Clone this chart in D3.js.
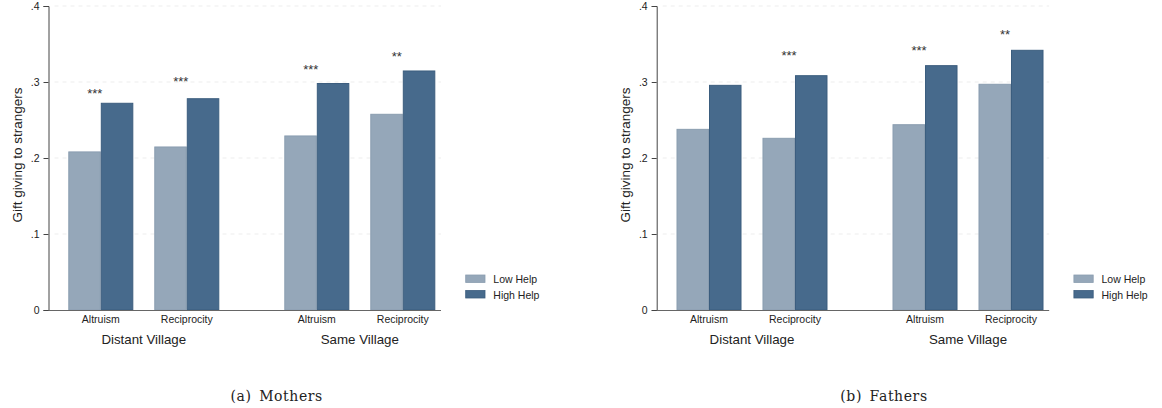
<!DOCTYPE html>
<html><head><meta charset="utf-8">
<script src="https://cdn.jsdelivr.net/npm/d3@7"></script>
<style>
html,body{margin:0;padding:0;background:#fff;}
svg{display:block;}
</style></head>
<body>
<script>
// ---------- data ----------
const villages = ["Distant Village", "Same Village"];
const games = ["Altruism", "Reciprocity"];
const helpLevels = ["Low Help", "High Help"];
const yTickValues = [0, 0.1, 0.2, 0.3, 0.4];
const yTickLabels = ["0", ".1", ".2", ".3", ".4"];
const yTitle = "Gift giving to strangers";
// order: Distant-Altruism, Distant-Reciprocity, Same-Altruism, Same-Reciprocity
const mothersLow  = [0.208, 0.2145, 0.229, 0.2575];
const mothersHigh = [0.272, 0.278, 0.298, 0.3145];
const mothersStars = ["***", "***", "***", "**"];
const mothersStarAt = [0.289, 0.304, 0.321, 0.338];
const fathersLow  = [0.2377, 0.2259, 0.2438, 0.297];
const fathersHigh = [0.2956, 0.3083, 0.3215, 0.3417];
const fathersStars = ["", "***", "***", "**"];
const fathersStarAt = [0, 0.3386, 0.345, 0.366];
const captions = ["(a)\u2002Mothers", "(b)\u2002Fathers"];

// ---------- layout ----------
const W = 1162, H = 408;
const colors = {"Low Help": "#95a7b9", "High Help": "#476a8c"};
const strokes = {"Low Help": "#8a9db0", "High Help": "#3b5d7e"};
const sans = "Liberation Sans, Arial, sans-serif";

const svg = d3.select("body").append("svg").attr("width", W).attr("height", H);

const panels = [
  {off: 0, low: mothersLow, high: mothersHigh, stars: mothersStars, starAt: mothersStarAt, cap: captions[0], capX: 276.7},
  {off: 608.2, low: fathersLow, high: fathersHigh, stars: fathersStars, starAt: fathersStarAt, cap: captions[1], capX: 884}
];

const axisX = 48.5, plotRight = 441, plotTop = 6, plotBottom = 310;
const y = d3.scaleLinear().domain([0, 0.4]).range([plotBottom, plotTop]);
const xV = d3.scaleBand().domain(villages).range([68.3, 435.3]).paddingInner(0.301).paddingOuter(0);
const xG = d3.scaleBand().domain(games).range([0, xV.bandwidth()]).paddingInner(0.244).paddingOuter(0);
const xH = d3.scaleBand().domain(helpLevels).range([0, xG.bandwidth()]).padding(0);

panels.forEach(p => {
  const g = svg.append("g").attr("transform", `translate(${p.off},0)`);

  // gridlines
  g.append("g").selectAll("line").data(yTickValues.filter(v => v > 0)).join("line")
    .attr("x1", axisX + 6).attr("x2", plotRight)
    .attr("y1", d => y(d)).attr("y2", d => y(d))
    .attr("stroke", "#ededed").attr("stroke-width", 1).attr("stroke-dasharray", "4,4");

  // records
  const rows = [];
  villages.forEach((v, vi) => games.forEach((gm, gi) => {
    const i = vi * 2 + gi;
    rows.push({v, gm, i, low: p.low[i], high: p.high[i], star: p.stars[i], starAt: p.starAt[i]});
  }));

  const grp = g.append("g").selectAll("g").data(rows).join("g")
    .attr("transform", d => `translate(${xV(d.v) + xG(d.gm)},0)`);

  grp.selectAll("rect").data(d => helpLevels.map(h => ({h, val: h === "Low Help" ? d.low : d.high}))).join("rect")
    .attr("x", d => xH(d.h) + 0.5).attr("width", xH.bandwidth() - 1)
    .attr("y", d => y(d.val)).attr("height", d => y(0) - y(d.val))
    .attr("fill", d => colors[d.h]).attr("stroke", d => strokes[d.h]).attr("stroke-width", 1);

  grp.filter(d => d.star).append("text")
    .attr("x", xG.bandwidth() / 2 - 6).attr("y", d => y(d.starAt) + 7.5)
    .attr("text-anchor", "middle").attr("font-family", sans).attr("font-size", 13)
    .attr("fill", "#333").text(d => d.star);

  // category labels
  grp.append("text")
    .attr("x", xG.bandwidth() / 2).attr("y", 323)
    .attr("text-anchor", "middle").attr("font-family", sans).attr("font-size", 10.5)
    .attr("fill", "#222").text(d => d.gm);

  // village labels
  g.append("g").selectAll("text").data(villages).join("text")
    .attr("x", d => xV(d) + xV.bandwidth() / 2).attr("y", 344)
    .attr("text-anchor", "middle").attr("font-family", sans).attr("font-size", 13.3)
    .attr("fill", "#222").text(d => d);

  // y axis
  const yAxis = d3.axisLeft(y).tickValues(yTickValues)
    .tickFormat((d, i) => yTickLabels[i]).tickSize(5).tickPadding(4);
  const ya = g.append("g").attr("transform", `translate(${axisX},0)`).call(yAxis);
  ya.select(".domain").attr("stroke", "#444");
  ya.selectAll(".tick line").attr("stroke", "#444");
  ya.selectAll(".tick text").attr("font-family", sans).attr("font-size", 10.5).attr("fill", "#222");

  // x axis baseline
  g.append("line").attr("x1", axisX).attr("x2", plotRight)
    .attr("y1", y(0) + 0.5).attr("y2", y(0) + 0.5).attr("stroke", "#666").attr("stroke-width", 1);

  // y title
  g.append("text").attr("transform", `translate(22,155) rotate(-90)`)
    .attr("text-anchor", "middle").attr("font-family", sans).attr("font-size", 13.5)
    .attr("fill", "#222").text(yTitle);

  // legend
  const lg = g.append("g").selectAll("g").data(helpLevels).join("g")
    .attr("transform", (d, i) => `translate(465.7,${275 + i * 15.5})`);
  lg.append("rect").attr("width", 19.3).attr("height", 7.5)
    .attr("fill", d => colors[d]).attr("stroke", d => strokes[d]).attr("stroke-width", 0.8);
  lg.append("text").attr("x", 27.6).attr("y", 8).attr("font-family", sans).attr("font-size", 10.5)
    .attr("fill", "#222").text(d => d);

  // caption
  svg.append("text").attr("x", p.capX).attr("y", 401).attr("text-anchor", "middle")
    .attr("font-family", "DejaVu Serif, serif").attr("font-size", 14).attr("letter-spacing", 0.6)
    .attr("fill", "#222").text(p.cap);
});
</script>
</body></html>
